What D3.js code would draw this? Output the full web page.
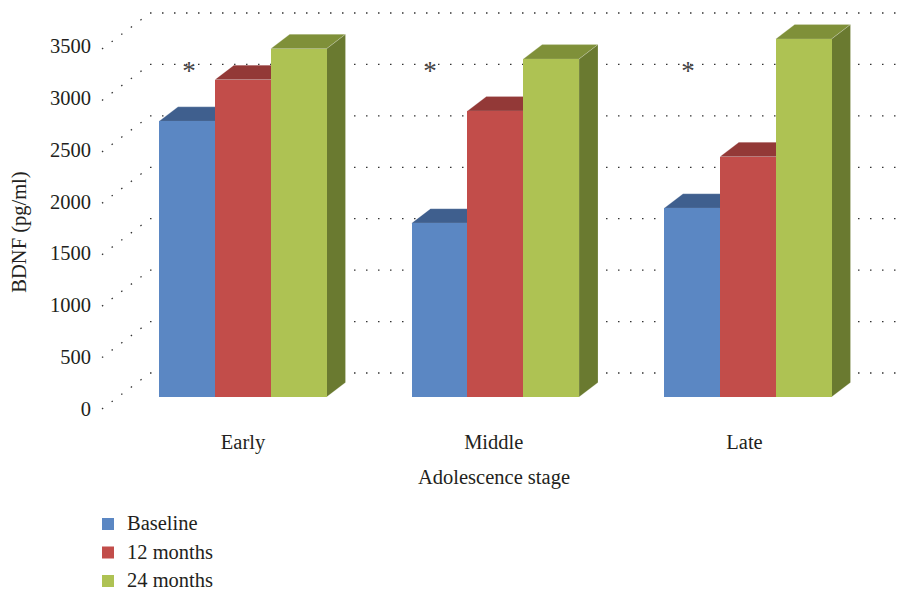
<!DOCTYPE html>
<html>
<head>
<meta charset="utf-8">
<script src="https://cdn.jsdelivr.net/npm/d3@7"></script>
<style>
	body { margin: 0; background: #fff; }
	text { font-family: "Liberation Serif", serif; font-size: 20.5px; fill: #231f20; }
</style>
</head>
<body>
<svg id="chart" width="897" height="590"></svg>
<script>
const stages = ['Early', 'Middle', 'Late'];
const seriesNames = ['Baseline', '12 months', '24 months'];
const baseline = [2680, 1690, 1835];
const months12 = [3085, 2780, 2335];
const months24 = [3385, 3285, 3480];
const yTicks = [0, 500, 1000, 1500, 2000, 2500, 3000, 3500];
const starStages = ['Early', 'Middle', 'Late'];

const frontColors = ['#5b87c3', '#c24d4a', '#aec253'];
const topColors = ['#3f5f8e', '#933937', '#7f9039'];
const sideColors = ['#3f5f8e', '#933937', '#6a7a30'];

const svg = d3.select('#chart');
const seriesValues = [baseline, months12, months24];

// Depth of the box the chart sits in, and of each 3d bar
const wallDx = 48, wallDy = 36;
const barInsetDy = 12;
const barDx = 19, barDy = 14.5;

const y = d3.scaleLinear().domain([0, 3500]).range([409, 49]);
const yLabels = d3.scaleLinear().domain([0, 3500]).range([409, 46.5]);
const x0 = d3.scaleBand().domain(stages).range([116.5, 874]);
const x1 = d3.scaleBand().domain(seriesNames).range([0, 167.5]);
const xLabels = d3.scalePoint().domain(stages).range([243, 744.5]);
const groupLeft = s => x0(s) + (x0.bandwidth() - x1.range()[1]) / 2;

// Dotted gridlines: floor/side diagonal plus the back wall line
const grid = svg.append('g')
	.attr('fill', 'none')
	.attr('stroke', '#333')
	.attr('stroke-width', 1.3)
	.attr('stroke-dasharray', '1.5 10.5');

grid.selectAll('path.diag')
	.data(yTicks)
	.enter()
	.append('path')
		.attr('class', 'diag')
		.attr('d', d => `M102,${y(d)}L${102 + wallDx},${y(d) - wallDy}`);

grid.selectAll('path.back')
	.data(yTicks)
	.enter()
	.append('path')
		.attr('class', 'back')
		.attr('d', d => `M${102 + wallDx},${y(d) - wallDy}H897`);

// Bars, drawn left to right so each front hides the previous side face
const barBase = v => y(v) - barInsetDy;
const groups = svg.append('g').selectAll('g')
	.data(stages)
	.enter()
	.append('g')
		.attr('transform', s => `translate(${groupLeft(s)},0)`);

seriesNames.forEach((name, k) => {
	groups.each(function (s, i) {
		const v = seriesValues[k][i];
		const left = x1(name);
		const w = x1.bandwidth();
		const g = d3.select(this);
		const top = barBase(v);
		const bottom = barBase(0);

		g.append('path')
			.attr('fill', topColors[k])
			.attr('stroke', 'rgba(255,255,255,0.25)')
			.attr('stroke-width', 0.8)
			.attr('d', `M${left},${top}l${barDx},${-barDy}h${w}l${-barDx},${barDy}z`);
		g.append('path')
			.attr('fill', sideColors[k])
			.attr('stroke', 'rgba(255,255,255,0.25)')
			.attr('stroke-width', 0.8)
			.attr('d', `M${left + w},${top}l${barDx},${-barDy}V${bottom - barDy}l${-barDx},${barDy}z`);
		g.append('rect')
			.attr('x', left)
			.attr('y', top)
			.attr('width', w)
			.attr('height', bottom - top)
			.attr('shape-rendering', 'crispEdges')
			.attr('fill', frontColors[k]);
	});
});

// Value axis
const yAxis = d3.axisLeft(yLabels).tickValues(yTicks).tickSize(0).tickPadding(0).tickFormat(d3.format('d'));
svg.append('g')
	.attr('transform', 'translate(91,0)')
	.call(yAxis)
	.call(g => g.select('.domain').remove())
	.call(g => g.selectAll('text').style('font-family', '"Liberation Serif", serif').style('font-size', '20.5px').attr('dy', '0.3em'));

// Category axis
svg.append('g').selectAll('text')
	.data(stages)
	.enter()
	.append('text')
		.attr('x', s => xLabels(s))
		.attr('y', 449)
		.attr('text-anchor', 'middle')
		.text(s => s);

svg.append('text')
	.attr('x', 494)
	.attr('y', 484)
	.attr('text-anchor', 'middle')
	.text('Adolescence stage');

svg.append('text')
	.attr('transform', 'translate(26,232) rotate(-90)')
	.attr('text-anchor', 'middle')
	.text('BDNF (pg/ml)');

// Significance markers
const starX = { Early: 189, Middle: 430, Late: 688 };
svg.append('g').selectAll('text')
	.data(starStages)
	.enter()
	.append('text')
		.attr('x', s => starX[s])
		.attr('y', 80)
		.attr('text-anchor', 'middle')
		.style('font-size', '27px')
		.style('fill', '#444')
		.text('*');

// Legend
const legend = svg.append('g').selectAll('g')
	.data(seriesNames)
	.enter()
	.append('g')
		.attr('transform', (d, i) => `translate(102,${518 + i * 28.5})`);

legend.append('rect')
	.attr('width', 12)
	.attr('height', 12)
	.attr('fill', (d, i) => frontColors[i]);

legend.append('text')
	.attr('x', 25)
	.attr('y', 12)
	.text(d => d);
</script>
</body>
</html>
